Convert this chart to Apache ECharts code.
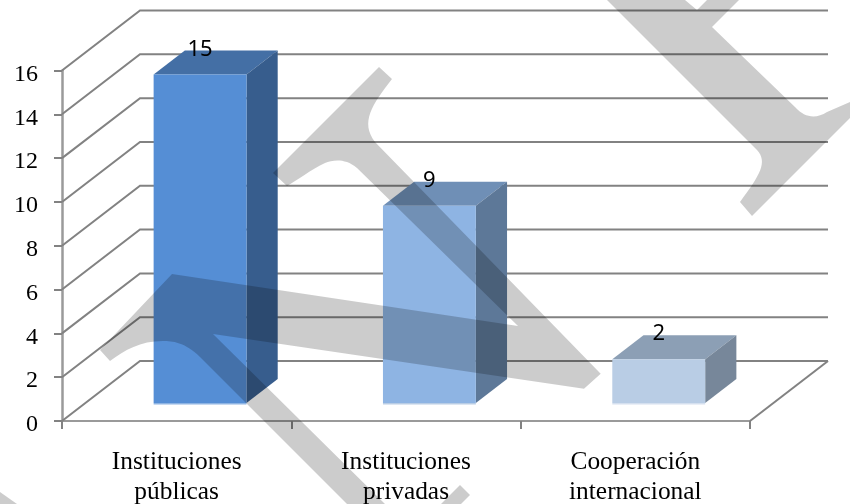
<!DOCTYPE html>
<html>
<head>
<meta charset="utf-8">
<style>html,body{margin:0;padding:0;background:#fff}#c{width:850px;height:504px}</style>
<script src="https://cdn.jsdelivr.net/npm/echarts@6/dist/echarts.min.js"></script>
</head>
<body>
<div id="c"></div>
<script>
var categories = ['Instituciones\npúblicas', 'Instituciones\nprivadas', 'Cooperación\ninternacional'];
var values = [15, 9, 2];
var yTicks = [0, 2, 4, 6, 8, 10, 12, 14, 16];
var frontColors = ['#558ED5', '#8EB4E3', '#B9CDE5'];
var topColors = ['#446FA5', '#6F8FB6', '#8C9FB5'];
var sideColors = ['#375D8D', '#5D7898', '#77879A'];
var baseColors = ['#8EB4E3', '#B9CDE5', '#D5E0EF'];
var watermarkPaths = [
  'M379,67 L392,79 C372,105 360,122 375,142 L600.7,373.7 L584,388.7 L213,334 L385,504 L347,504 L200,357 C185,342 172,341 163,341 C140,341 125,350 110,361 L100,350 L172,274 L518,326 L357,168 C345,158 333,160 325,163 C310,170 298,180 287,186 L273,173 Z',
  'M607,0 L685,0 L697,10 L707,0 L739,0 L712,27 L795,107 C805,118 816,119 827,112 L850,102 L850,118 L752,216 L740,202 C760,175 768,162 757,150 Z',
  'M460,485 L470,495 L461,504 L441,504 Z',
  'M0,492 L17,504 L0,504 Z'
];

var DX = 78, DY = 60;
var BAR_FRAC = 0.405, NEAR = 0.3, FAR = 0.7;
var GRID_COLOR = '#828282';

var chart = echarts.init(document.getElementById('c'));
chart.setOption({
  animation: false,
  backgroundColor: '#fff',
  grid: { left: 62, right: 100, top: 70.5, bottom: 83, outerBoundsMode: 'none' },
  xAxis: {
    type: 'category',
    data: categories,
    boundaryGap: true,
    axisLine: { lineStyle: { color: '#9A9A9A', width: 2 } },
    axisTick: { show: true, length: 8, lineStyle: { color: GRID_COLOR, width: 2 } },
    axisLabel: { color: '#000', fontFamily: 'Liberation Serif', fontSize: 25.4, lineHeight: 30, margin: 26, interval: 0 }
  },
  yAxis: {
    type: 'value',
    min: 0,
    max: 16,
    interval: 2,
    axisLine: { show: true, lineStyle: { color: '#9A9A9A', width: 2.5 } },
    axisTick: { show: true, length: 8, lineStyle: { color: GRID_COLOR, width: 2 } },
    splitLine: { show: false },
    axisLabel: { color: '#000', fontFamily: 'Liberation Serif', fontSize: 24, margin: 24, verticalAlign: 'top', lineHeight: 8 }
  },
  series: [
    {
      type: 'custom',
      silent: true,
      z: 1,
      encode: { x: 0, y: 1 },
      data: yTicks.map(function (t) { return [0, t]; }),
      renderItem: function (params, api) {
        var t = api.value(1);
        var band = api.size([1, 0])[0];
        var p = api.coord([0, t]);
        var x0 = p[0] - band / 2, y0 = p[1];
        var kids = [{
          type: 'polyline',
          shape: { points: [[x0, y0], [x0 + DX, y0 - DY], [x0 + 3 * band + DX, y0 - DY]] },
          style: { stroke: GRID_COLOR, lineWidth: 2, fill: null }
        }];
        if (t === 0) {
          kids.push({
            type: 'line',
            shape: { x1: x0 + 3 * band, y1: y0, x2: x0 + 3 * band + DX, y2: y0 - DY },
            style: { stroke: GRID_COLOR, lineWidth: 2 }
          });
        }
        return { type: 'group', children: kids };
      }
    },
    {
      type: 'custom',
      silent: true,
      z: 3,
      encode: { x: 0, y: 1 },
      data: values.map(function (v, i) { return [i, v]; }),
      renderItem: function (params, api) {
        var i = api.value(0), v = api.value(1);
        var band = api.size([1, 0])[0];
        var top = api.coord([i, v]), base = api.coord([i, 0]);
        var w = band * BAR_FRAC;
        var nx = NEAR * DX, ny = NEAR * DY;
        var ddx = (FAR - NEAR) * DX, ddy = (FAR - NEAR) * DY;
        var l = top[0] + nx - w / 2, r = l + w;
        var yt = top[1] - ny, yb = base[1] - ny;
        return {
          type: 'group',
          children: [
            { type: 'polygon', shape: { points: [[l, yt], [l + ddx, yt - ddy], [r + ddx, yt - ddy], [r, yt]] }, style: { fill: topColors[i] } },
            { type: 'polygon', shape: { points: [[r, yt], [r + ddx, yt - ddy], [r + ddx, yb - ddy], [r, yb]] }, style: { fill: sideColors[i] } },
            { type: 'rect', shape: { x: l, y: yt, width: w, height: yb - yt }, style: { fill: frontColors[i] } },
            { type: 'rect', shape: { x: l, y: yb, width: w, height: 1.6 }, style: { fill: baseColors[i] } },
            { type: 'text', x: l + w / 2, y: yt - ddy - 1, style: { text: String(v), fill: '#000', font: '22px "Noto Sans"', textAlign: 'center', textVerticalAlign: 'middle' } }
          ]
        };
      }
    },
    {
      type: 'custom',
      silent: true,
      z: 100,
      coordinateSystem: 'none',
      data: watermarkPaths.map(function (p, i) { return [i]; }),
      renderItem: function (params) {
        return {
          type: 'path',
          shape: { pathData: watermarkPaths[params.dataIndex] },
          style: { fill: 'rgba(0,0,0,0.2)' }
        };
      }
    }
  ]
});
</script>
</body>
</html>
